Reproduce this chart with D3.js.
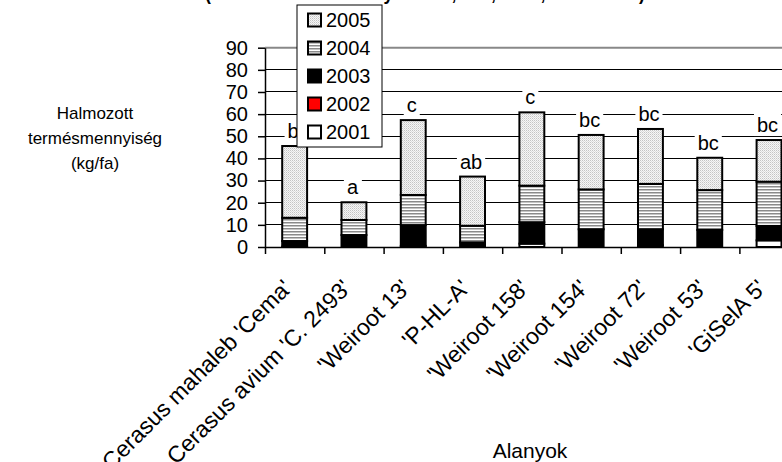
<!DOCTYPE html>
<html>
<head>
<meta charset="utf-8">
<script src="https://cdn.jsdelivr.net/npm/d3@7/dist/d3.min.js"></script>
<style>
body{margin:0;background:#fff;}
svg{display:block;font-family:"Liberation Sans",Arial,sans-serif;}
</style>
</head>
<body>
<svg id="chart" width="782" height="462"></svg>
<script>
// alanyok, evenkenti termes (kg/fa) - alulrol felfele halmozva
const alanyok = ["Cerasus mahaleb 'Cema'", "Cerasus avium 'C. 2493'", "'Weiroot 13'", "'P-HL-A'",
  "'Weiroot 158'", "'Weiroot 154'", "'Weiroot 72'", "'Weiroot 53'", "'GiSelA 5'"];
const evek = ["2001", "2002", "2003", "2004", "2005"];
const t2001 = [0.2, 0, 0.5, 0, 1.5, 0, 0.8, 0, 3.0];
const t2002 = [0, 0, 0, 0, 0, 0, 0, 0, 0];
const t2003 = [2.5, 5.4, 9.4, 2.1, 9.7, 8.0, 7.2, 7.7, 6.5];
const t2004 = [10.5, 6.8, 13.6, 7.5, 16.5, 18.0, 20.5, 18.0, 20.0];
const t2005 = [32.4, 8.0, 33.8, 22.2, 33.1, 24.6, 24.8, 14.6, 18.8];
const betuk = ["b", "a", "c", "ab", "c", "bc", "bc", "bc", "bc"];
const yTicks = [0, 10, 20, 30, 40, 50, 60, 70, 80, 90];

const svg = d3.select("#chart");
const pLeft = 265, pBottom = 247, pTop = 47.7, step = 59.3;
const pRight = pLeft + step * alanyok.length;

const x = d3.scaleBand().domain(alanyok).range([pLeft, pRight])
  .paddingInner(0.58).paddingOuter(0.29);
const xEdge = d3.scaleLinear().domain([0, alanyok.length]).range([pLeft, pRight]);
const y = d3.scaleLinear().domain([0, 90]).range([pBottom, pTop]);

// mintazatok
const defs = svg.append("defs");
const pd = defs.append("pattern").attr("id", "pottyos").attr("patternUnits", "userSpaceOnUse")
  .attr("width", 2).attr("height", 2);
pd.append("rect").attr("width", 2).attr("height", 2).attr("fill", "#f6f6f6");
pd.append("rect").attr("width", 1).attr("height", 1).attr("fill", "#c4c4c4");
pd.append("rect").attr("x", 1).attr("y", 1).attr("width", 1).attr("height", 1).attr("fill", "#dcdcdc");
const cs = defs.append("pattern").attr("id", "csikos").attr("patternUnits", "userSpaceOnUse")
  .attr("width", 4).attr("height", 3);
cs.append("rect").attr("width", 4).attr("height", 3).attr("fill", "#fff");
cs.append("rect").attr("width", 4).attr("height", 1.5).attr("fill", "#8a8a8a");

const szin = {"2001": "#fff", "2002": "#ff0000", "2003": "#000", "2004": "url(#csikos)", "2005": "url(#pottyos)"};

// cim (felul levagva, csak az alja latszik)
svg.append("text").attr("x", 205).attr("y", 0)
  .attr("textLength", 440).attr("lengthAdjust", "spacingAndGlyphs")
  .style("font-weight", "bold").style("font-size", "20px")
  .text("(Katalin termése alanyonként, Érd, 1998, 2001–2005)");

// racsvonalak
svg.append("g").selectAll("line").data(yTicks.filter(d => d > 0 && d < 90)).join("line")
  .attr("x1", pLeft).attr("x2", pRight).attr("y1", d => y(d)).attr("y2", d => y(d))
  .attr("stroke", "#000").attr("stroke-width", 1).attr("shape-rendering", "crispEdges");
svg.append("line").attr("x1", pLeft).attr("x2", pRight).attr("y1", y(90)).attr("y2", y(90))
  .attr("stroke", "#888").attr("stroke-width", 2);

// y tengely
const ya = svg.append("g").attr("transform", `translate(${pLeft},0)`)
  .call(d3.axisLeft(y).tickValues(yTicks).tickSize(7).tickPadding(10).tickSizeOuter(0));
ya.attr("font-family", null).attr("font-size", null);
ya.select(".domain").attr("stroke", "#000").attr("stroke-width", 1.5);
ya.selectAll(".tick line").attr("stroke", "#000").attr("stroke-width", 1.5);
ya.selectAll("text").style("font-size", "20px").attr("fill", "#000");

// x tengely
const xa = svg.append("g").attr("transform", `translate(0,${pBottom})`)
  .call(d3.axisBottom(xEdge).tickValues(d3.range(0, alanyok.length + 1)).tickSize(7).tickFormat("").tickSizeOuter(0));
xa.select(".domain").attr("stroke", "#000").attr("stroke-width", 1.5);
xa.selectAll(".tick line").attr("stroke", "#000").attr("stroke-width", 1.5);

svg.append("g").selectAll("text").data(alanyok).join("text")
  .attr("transform", d => `translate(${x(d) + x.bandwidth() / 2 - 13},${pBottom + 31}) rotate(-45)`)
  .attr("text-anchor", "end").attr("dy", "0.7em")
  .style("font-size", "23px").text(d => d);

// halmozott oszlopok
const sorok = alanyok.map((a, i) => ({alany: a, "2001": t2001[i], "2002": t2002[i], "2003": t2003[i], "2004": t2004[i], "2005": t2005[i]}));
const stack = d3.stack().keys(evek)(sorok);

// betujelek feher hatterrel
const lg = svg.append("g");
sorok.forEach((s, i) => {
  const osszes = evek.reduce((acc, e) => acc + s[e], 0);
  const g = lg.append("g");
  const t = g.append("text").attr("x", x(s.alany) + x.bandwidth() / 2 - 1.5).attr("y", y(osszes) - 8)
    .attr("text-anchor", "middle").style("font-size", "20px").text(betuk[i]);
  const bb = t.node().getBBox();
  g.insert("rect", "text").attr("x", bb.x - 3).attr("y", bb.y - 1).attr("width", bb.width + 6)
    .attr("height", bb.height + 1).attr("fill", "#fff");
});

svg.append("g").selectAll("g").data(stack).join("g")
  .attr("fill", d => szin[d.key])
  .selectAll("rect").data(d => d).join("rect")
  .attr("x", d => x(d.data.alany)).attr("width", x.bandwidth())
  .attr("y", d => y(d[1])).attr("height", d => y(d[0]) - y(d[1]))
  .attr("stroke", "#000").attr("stroke-width", 2);

// jelmagyarazat
const leg = svg.append("g");
leg.append("rect").attr("x", 297).attr("y", 5).attr("width", 85).attr("height", 142)
  .attr("fill", "#fff").attr("stroke", "#000").attr("stroke-width", 1);
evek.slice().reverse().forEach((e, i) => {
  const cy = 20 + i * 28;
  leg.append("rect").attr("x", 308).attr("y", cy - 6.5).attr("width", 13).attr("height", 13)
    .attr("fill", szin[e]).attr("stroke", "#000").attr("stroke-width", 2);
  leg.append("text").attr("x", 326).attr("y", cy).attr("dy", "0.36em")
    .style("font-size", "20px").text(e);
});

// tengelycimek
const yc = svg.append("text").attr("text-anchor", "middle").style("font-size", "17px");
["Halmozott", "termésmennyiség", "(kg/fa)"].forEach((s, i) => {
  yc.append("tspan").attr("x", 95).attr("y", 119 + i * 25).text(s);
});
svg.append("text").attr("x", 530).attr("y", 458).attr("text-anchor", "middle")
  .style("font-size", "21px").text("Alanyok");
</script>
</body>
</html>
